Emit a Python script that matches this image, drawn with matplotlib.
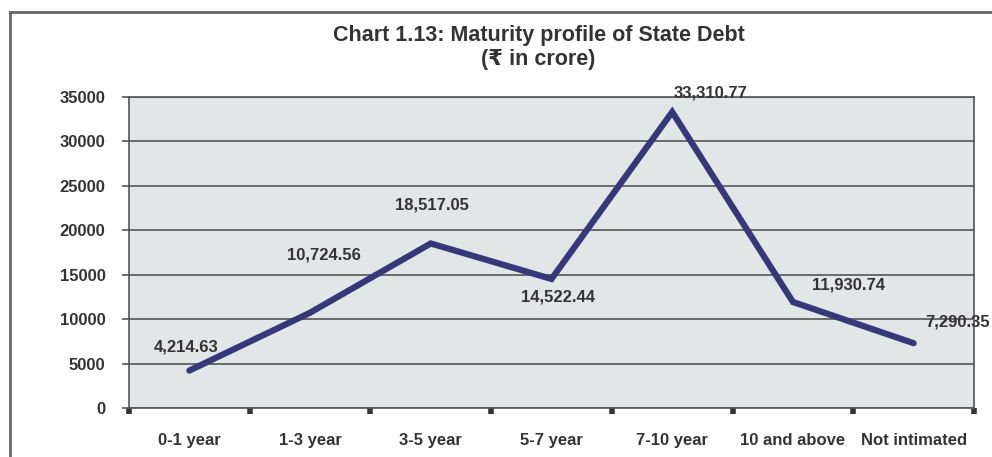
import matplotlib.pyplot as plt
from matplotlib.lines import Line2D

# Maturity profile values (Rs in crore)
categories = ['0-1 year', '1-3 year', '3-5 year', '5-7 year', '7-10 year',
              '10 and above', 'Not intimated']
values = [4214.63, 10724.56, 18517.05, 14522.44, 33310.77, 11930.74, 7290.35]
value_labels = ['4,214.63', '10,724.56', '18,517.05', '14,522.44', '33,310.77',
                '11,930.74', '7,290.35']
y_ticks = [0, 5000, 10000, 15000, 20000, 25000, 30000, 35000]

# where each data label sits relative to its point (pixels)
label_offsets = [(-3, 24), (14, 58), (1, 38), (6, -18), (38, 19), (56, 17), (44, 21)]

plt.rcParams['font.family'] = ['Liberation Sans', 'DejaVu Sans']
plt.rcParams['font.weight'] = 'bold'
text_color = '#333333'
grid_color = '#555555'

fig = plt.figure(figsize=(9.92, 4.57), dpi=100)
ax = fig.add_axes([129 / 992, 1 - 408 / 457, 845 / 992, 311 / 457])
ax.set_facecolor('#e3e6e6')

x = list(range(len(categories)))
ax.plot(x, values, color='#37377a', linewidth=4.5, solid_capstyle='round',
        solid_joinstyle='miter', zorder=3)

for xi, v, lab, (dx, dy) in zip(x, values, value_labels, label_offsets):
    ax.annotate(lab, (xi, v), xytext=(dx, dy), textcoords='offset pixels',
                ha='center', va='center', fontsize=12, fontweight='bold',
                color=text_color, annotation_clip=False, zorder=4)

ax.set_xlim(-0.5, len(categories) - 0.5)
ax.set_ylim(0, 35000)
ax.set_yticks(y_ticks)
ax.set_yticklabels([str(t) for t in y_ticks], fontsize=12, fontweight='bold',
                   color=text_color)
ax.yaxis.grid(True, color=grid_color, linewidth=1.2)
ax.set_axisbelow(True)
ax.tick_params(axis='y', direction='out', length=5, width=1.2, color=grid_color, pad=12)

# square tick marks at category boundaries, labels at centres
ax.set_xticks([i - 0.5 for i in range(len(categories) + 1)])
ax.set_xticklabels([])
ax.tick_params(axis='x', which='major', direction='out', length=4, width=4,
               color='#333333')
ax.set_xticks(x, minor=True)
ax.set_xticklabels(categories, minor=True, fontsize=12, fontweight='bold',
                   color=text_color)
ax.tick_params(axis='x', which='minor', length=0, pad=18)

for side in ['left', 'right', 'bottom', 'top']:
    ax.spines[side].set_color(grid_color)
    ax.spines[side].set_linewidth(1.2)

fig.text(0.543, 1 - 35 / 457, 'Chart 1.13: Maturity profile of State Debt',
         ha='center', va='center', fontsize=15.5, fontweight='bold', color=text_color)
fig.text(0.543, 1 - 60 / 457, '(\u20b9 in crore)', ha='center', va='center',
         fontsize=15.5, fontweight='bold', color=text_color)

# page frame lines
fig.add_artist(Line2D([10 / 992, 1], [1 - 12 / 457] * 2, transform=fig.transFigure,
                      color='#666666', linewidth=2))
fig.add_artist(Line2D([10 / 992] * 2, [0, 1 - 12 / 457], transform=fig.transFigure,
                      color='#666666', linewidth=2))

fig.savefig('out.png', dpi=100)
